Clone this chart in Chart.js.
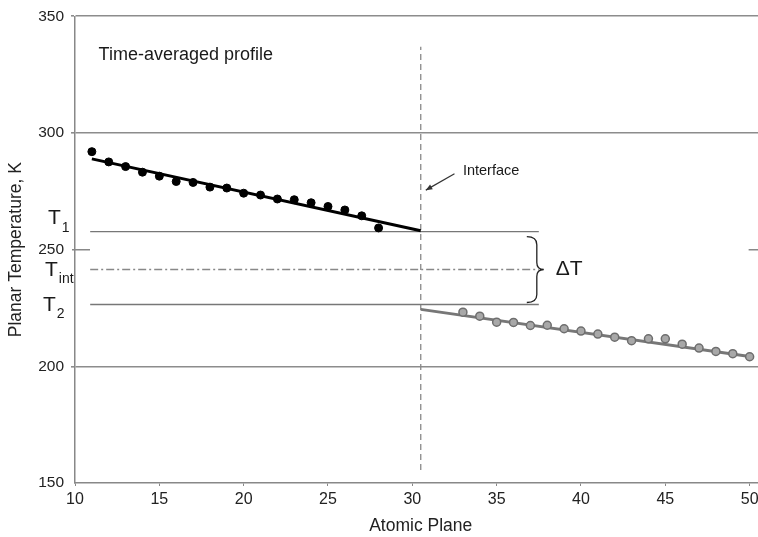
<!DOCTYPE html>
<html>
<head>
<meta charset="utf-8">
<script src="https://cdn.jsdelivr.net/npm/chart.js@4.4.1/dist/chart.umd.min.js"></script>
<style>
  html, body { margin: 0; padding: 0; background: #fff; overflow: hidden; }
  #wrap { width: 772px; height: 537px; }
</style>
</head>
<body>
<div id="wrap"><canvas id="profileChart"></canvas></div>
<script>
// values
const leftPlanes = [11, 12, 13, 14, 15, 16, 17, 18, 19, 20, 21, 22, 23, 24, 25, 26, 27, 28];
const leftTemps = [292.0, 287.6, 285.6, 283.2, 281.5, 279.2, 278.8, 276.8, 276.4, 274.2, 273.4, 271.7, 271.4, 270.1, 268.5, 267.0, 264.5, 259.3];
const rightPlanes = [33, 34, 35, 36, 37, 38, 39, 40, 41, 42, 43, 44, 45, 46, 47, 48, 49, 50];
const rightTemps = [223.2, 221.5, 218.9, 218.8, 217.5, 217.6, 216.1, 215.1, 213.8, 212.5, 211.0, 211.8, 211.8, 209.5, 207.8, 206.4, 205.4, 204.1];

const leftFitX = [11, 30.5];
const leftFitY = [288.9, 258.1];
const rightFitX = [30.5, 50];
const rightFitY = [224.4, 204.2];

const interfacePlane = 30.5;
const interfaceSpan = [155.6, 337];
const levelSpan = [10.9, 37.5];
const levelT1 = 257.7;
const levelTint = 241.5;
const levelT2 = 226.5;

const xTicks = [10, 15, 20, 25, 30, 35, 40, 45, 50];
const yTicks = [150, 200, 250, 300, 350];
const gridLevels = [200, 300, 350];

const pts = (xs, ys) => xs.map((x, i) => ({ x: x, y: ys[i] }));
const hline = (y) => levelSpan.map(x => ({ x: x, y: y }));

const FONT = '"Liberation Sans", Arial, sans-serif';

// text, brace, arrow and short stubs on top of the plot
const annotations = {
  id: 'annotations',
  afterDatasetsDraw(chart) {
    const c = chart.ctx, xs = chart.scales.x, ys = chart.scales.y;
    const area = chart.chartArea;
    c.save();
    c.fillStyle = '#1a1a1a';
    c.textBaseline = 'middle';
    c.textAlign = 'left';

    c.font = '18px ' + FONT;
    c.fillText('Time-averaged profile', xs.getPixelForValue(11.4), ys.getPixelForValue(333.3));

    // stubs at 250
    const y250 = ys.getPixelForValue(250);
    const x50 = xs.getPixelForValue(50);
    c.strokeStyle = '#888';
    c.lineWidth = 1.5;
    c.beginPath();
    c.moveTo(area.left - 3, y250); c.lineTo(area.left + 15, y250);
    c.moveTo(x50 - 1, y250); c.lineTo(x50 + 15, y250);
    c.stroke();

    // interface label + arrow
    c.font = '14.5px ' + FONT;
    c.fillText('Interface', xs.getPixelForValue(33.0), ys.getPixelForValue(283.7));
    const ax0 = xs.getPixelForValue(32.5), ay0 = ys.getPixelForValue(282.5);
    const ax1 = xs.getPixelForValue(30.8), ay1 = ys.getPixelForValue(275.5);
    c.strokeStyle = '#333';
    c.lineWidth = 1.2;
    c.beginPath(); c.moveTo(ax0, ay0); c.lineTo(ax1, ay1); c.stroke();
    const ang = Math.atan2(ay1 - ay0, ax1 - ax0);
    c.beginPath();
    c.moveTo(ax1, ay1);
    c.lineTo(ax1 - 7 * Math.cos(ang - 0.4), ay1 - 7 * Math.sin(ang - 0.4));
    c.lineTo(ax1 - 7 * Math.cos(ang + 0.4), ay1 - 7 * Math.sin(ang + 0.4));
    c.closePath();
    c.fillStyle = '#333';
    c.fill();

    // curly brace between T1 and T2
    const bx = xs.getPixelForValue(levelSpan[1]) - 2;
    const yt = ys.getPixelForValue(levelT1) + 5;
    const yb = ys.getPixelForValue(levelT2) - 2;
    const ym = ys.getPixelForValue(levelTint);
    c.strokeStyle = '#222';
    c.lineWidth = 1.3;
    c.beginPath();
    c.moveTo(bx - 10, yt);
    c.quadraticCurveTo(bx, yt, bx, yt + 8);
    c.lineTo(bx, ym - 7);
    c.quadraticCurveTo(bx, ym, bx + 7, ym);
    c.quadraticCurveTo(bx, ym, bx, ym + 7);
    c.lineTo(bx, yb - 8);
    c.quadraticCurveTo(bx, yb, bx - 10, yb);
    c.stroke();

    c.fillStyle = '#1a1a1a';
    c.font = '21px ' + FONT;
    c.fillText('\u0394T', bx + 19, ym);

    // T labels beside the y axis
    const tl = (sub, x, y) => {
      c.font = '21px ' + FONT;
      c.fillText('T', x, y);
      const w = c.measureText('T').width;
      c.font = '14px ' + FONT;
      c.fillText(sub, x + w + 1, y + 9);
    };
    tl('1', 48, ys.getPixelForValue(levelT1) - 13);
    tl('int', 45, ys.getPixelForValue(levelTint) + 1);
    tl('2', 43, ys.getPixelForValue(levelT2) + 1);
    c.restore();
  }
};

new Chart(document.getElementById('profileChart'), {
  type: 'scatter',
  data: {
    datasets: [
      {
        data: pts(leftPlanes, leftTemps),
        backgroundColor: '#000',
        borderColor: '#000',
        pointRadius: 4,
        showLine: false
      },
      {
        data: pts(leftFitX, leftFitY),
        borderColor: '#000',
        borderWidth: 3,
        pointRadius: 0,
        showLine: true
      },
      {
        data: pts(rightPlanes, rightTemps),
        backgroundColor: '#a8a8a8',
        borderColor: '#6e6e6e',
        borderWidth: 1.5,
        pointRadius: 4,
        showLine: false
      },
      {
        data: pts(rightFitX, rightFitY),
        borderColor: '#777',
        borderWidth: 3,
        pointRadius: 0,
        showLine: true
      },
      {
        data: hline(levelT1),
        borderColor: '#777',
        borderWidth: 1.3,
        pointRadius: 0,
        showLine: true
      },
      {
        data: hline(levelTint),
        borderColor: '#888',
        borderWidth: 1.3,
        borderDash: [8, 3, 2, 3],
        pointRadius: 0,
        showLine: true
      },
      {
        data: hline(levelT2),
        borderColor: '#777',
        borderWidth: 1.3,
        pointRadius: 0,
        showLine: true
      },
      {
        data: interfaceSpan.map(y => ({ x: interfacePlane, y: y })),
        borderColor: '#888',
        borderWidth: 1.3,
        borderDash: [6, 4],
        pointRadius: 0,
        showLine: true
      }
    ]
  },
  options: {
    responsive: true,
    maintainAspectRatio: false,
    animation: false,
    layout: { padding: { top: 15, left: 0, right: 0, bottom: 0 } },
    plugins: {
      legend: { display: false },
      tooltip: { enabled: false }
    },
    scales: {
      x: {
        type: 'linear',
        min: 10,
        max: 51,
        afterBuildTicks: axis => { axis.ticks = xTicks.map(v => ({ value: v })); },
        afterFit: axis => { axis.height = 54; },
        border: { color: '#888', width: 1.5 },
        grid: { drawOnChartArea: false, drawTicks: true, tickLength: 3, color: '#888' },
        ticks: { color: '#222', font: { family: FONT, size: 16 }, padding: 3.5, maxRotation: 0 },
        title: { display: true, text: 'Atomic Plane', color: '#222', font: { family: FONT, size: 17.5 }, padding: { top: 0, bottom: 0 } }
      },
      y: {
        type: 'linear',
        min: 150,
        max: 350,
        afterBuildTicks: axis => { axis.ticks = yTicks.map(v => ({ value: v })); },
        afterFit: axis => { axis.width = 75; },
        border: { color: '#888', width: 1.5 },
        grid: {
          color: ctx => gridLevels.includes(ctx.tick && ctx.tick.value) ? '#8c8c8c' : 'rgba(0,0,0,0)',
          lineWidth: 1.6,
          drawTicks: true,
          tickLength: 4
        },
        ticks: { color: '#222', font: { family: FONT, size: 15.5 }, padding: 7 },
        title: { display: true, text: 'Planar Temperature, K', color: '#222', font: { family: FONT, size: 17.5 }, padding: { top: 6, bottom: 0 } }
      }
    }
  },
  plugins: [annotations]
});
</script>
</body>
</html>
